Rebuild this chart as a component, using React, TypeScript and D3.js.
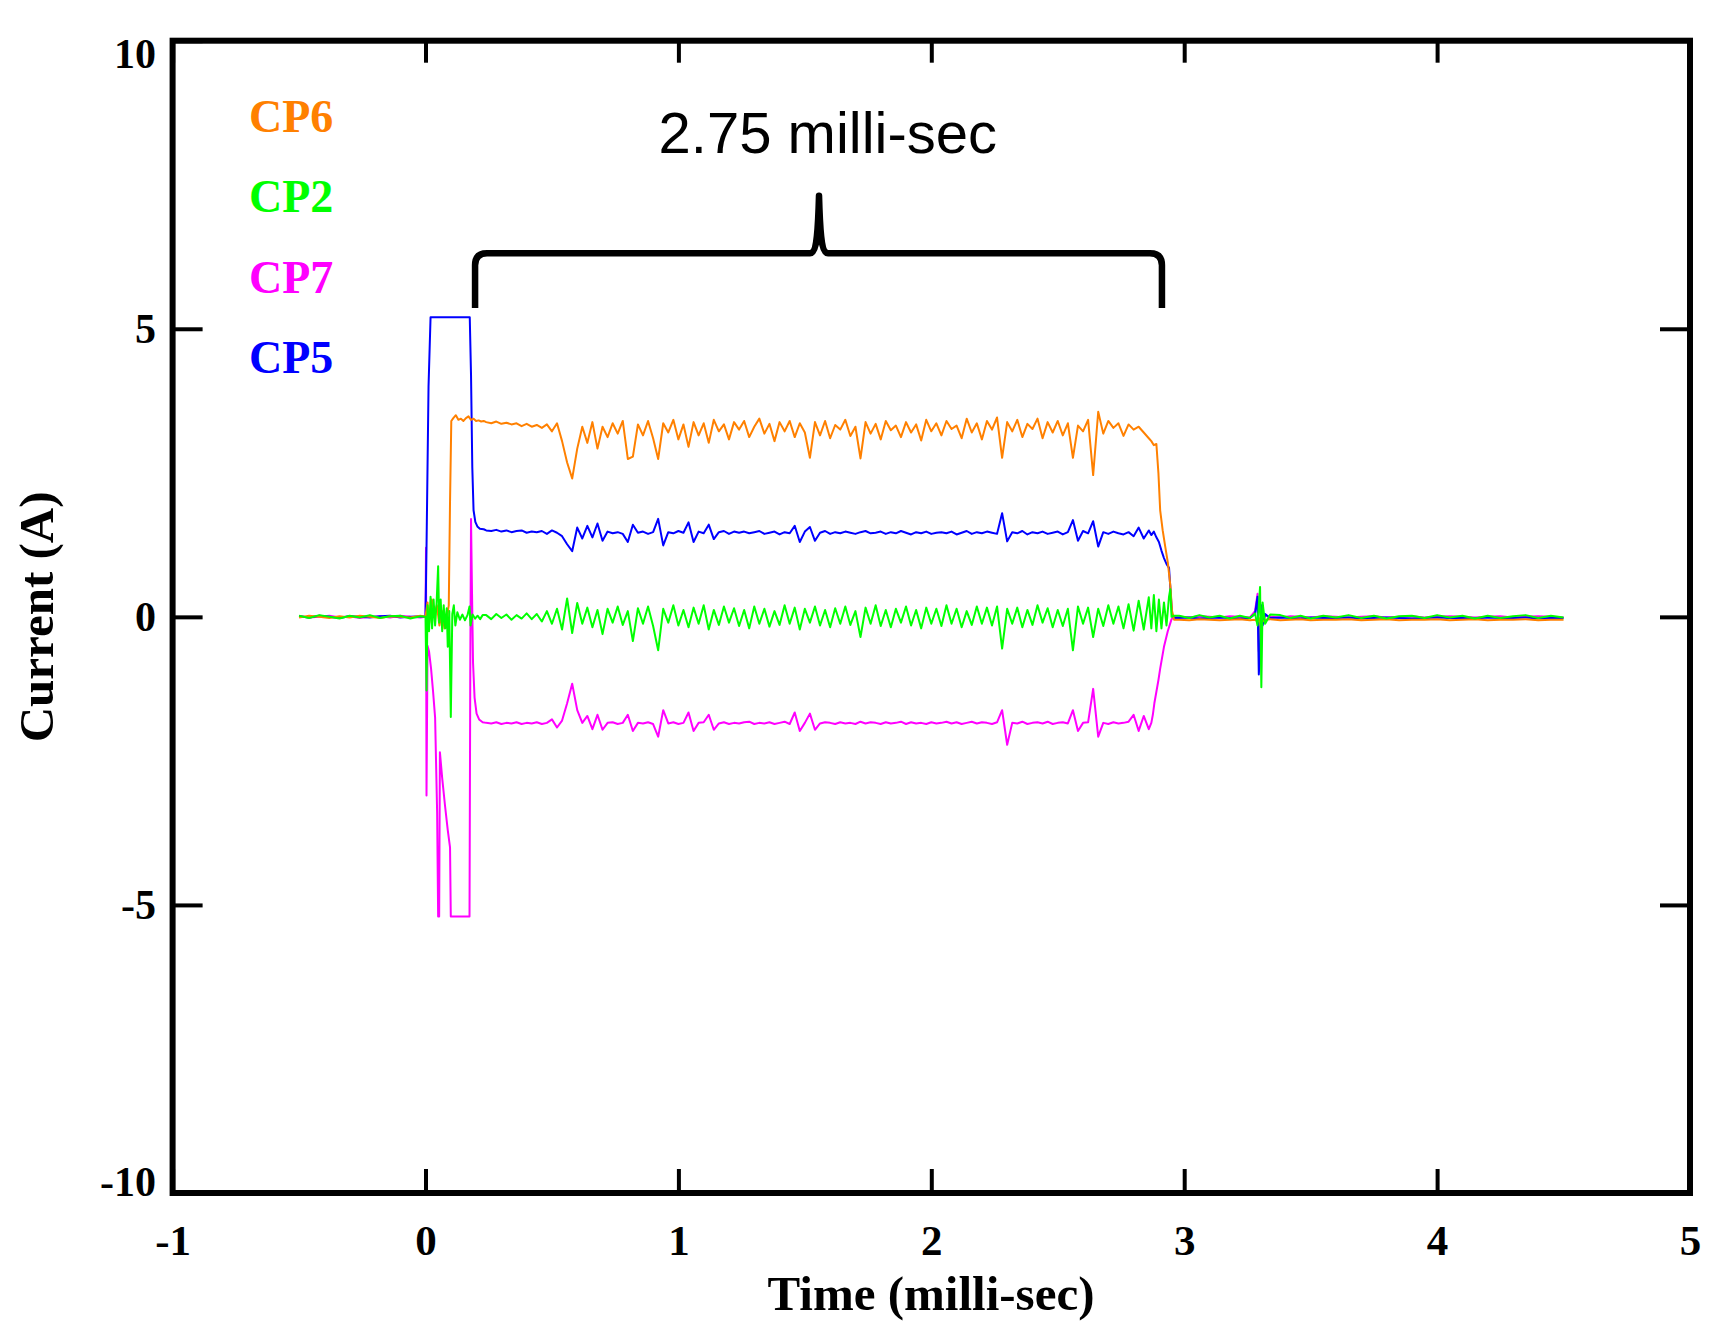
import React, { useRef, useEffect } from 'react';
import * as d3 from 'd3';

// ---- data (time in milli-sec, current in A) ----
const xTickValues = [-1, 0, 1, 2, 3, 4, 5];
const yTickValues = [-10, -5, 0, 5, 10];
const legendNames = ['CP6', 'CP2', 'CP7', 'CP5'];
const legendColors = ['#FF8000', '#00FF00', '#FF00FF', '#0000FF'];

const preTimes = [-0.5, -0.46, -0.42, -0.38, -0.34, -0.3, -0.26, -0.22, -0.18, -0.14, -0.1, -0.06, -0.02];

const plateauTimes = [
  0.24, 0.26, 0.28, 0.30, 0.32, 0.34, 0.36, 0.38, 0.40, 0.42,
  0.44, 0.46, 0.48, 0.50, 0.52, 0.54, 0.56, 0.58, 0.60, 0.62,
  0.64, 0.66, 0.68, 0.70, 0.72, 0.74, 0.76, 0.78, 0.80, 0.82,
  0.84, 0.86, 0.88, 0.90, 0.92, 0.94, 0.96, 0.98, 1.00, 1.02,
  1.04, 1.06, 1.08, 1.10, 1.12, 1.14, 1.16, 1.18, 1.20, 1.22,
  1.24, 1.26, 1.28, 1.30, 1.32, 1.34, 1.36, 1.38, 1.40, 1.42,
  1.44, 1.46, 1.48, 1.50, 1.52, 1.54, 1.56, 1.58, 1.60, 1.62,
  1.64, 1.66, 1.68, 1.70, 1.72, 1.74, 1.76, 1.78, 1.80, 1.82,
  1.84, 1.86, 1.88, 1.90, 1.92, 1.94, 1.96, 1.98, 2.00, 2.02,
  2.04, 2.06, 2.08, 2.10, 2.12, 2.14, 2.16, 2.18, 2.20, 2.22,
  2.24, 2.26, 2.28, 2.30, 2.32, 2.34, 2.36, 2.38, 2.40, 2.42,
  2.44, 2.46, 2.48, 2.50, 2.52, 2.54, 2.56, 2.58, 2.60, 2.62,
  2.64, 2.66, 2.68, 2.70, 2.72, 2.74, 2.76, 2.78, 2.80, 2.82,
  2.84, 2.86,
];

const postTimes = [
  2.98, 3.02, 3.06, 3.10, 3.14, 3.18, 3.22, 3.26,
  3.28, 3.29, 3.295, 3.30, 3.305, 3.31, 3.32, 3.34,
  3.38, 3.42, 3.46, 3.50,
  3.55, 3.60, 3.65, 3.70, 3.75, 3.80, 3.85, 3.90, 3.95, 4.00,
  4.05, 4.10, 4.15, 4.20, 4.25, 4.30, 4.35, 4.40, 4.45, 4.50,
];

// CP5 (blue)
const cp5Pre = [0.01, -0.01, 0.02, 0.0, -0.02, 0.01, 0.0, -0.01, 0.01, 0.02, -0.01, 0.0, 0.01];
const cp5Rise: [number, number][] = [
  [0.0, 0.0], [0.004, 1.2], [0.012, 4.0], [0.02, 5.2], [0.175, 5.2], [0.18, 4.2], [0.185, 2.6],
  [0.19, 1.85], [0.197, 1.65], [0.205, 1.57], [0.215, 1.53], [0.23, 1.52],
];
const cp5Plateau = [
  1.50, 1.49, 1.51, 1.48, 1.50, 1.47, 1.49, 1.50, 1.46, 1.48,
  1.47, 1.49, 1.44, 1.50, 1.46, 1.40, 1.26, 1.14, 1.55, 1.36,
  1.58, 1.38, 1.62, 1.32, 1.48, 1.45, 1.47, 1.44, 1.30, 1.60,
  1.46, 1.48, 1.44, 1.47, 1.70, 1.24, 1.47, 1.45, 1.49, 1.46,
  1.64, 1.30, 1.48, 1.45, 1.60, 1.35, 1.47, 1.49, 1.44, 1.48,
  1.46, 1.48, 1.45, 1.47, 1.49, 1.44, 1.46, 1.48, 1.43, 1.47,
  1.45, 1.58, 1.30, 1.48, 1.56, 1.32, 1.46, 1.49, 1.44, 1.47,
  1.45, 1.48, 1.46, 1.44, 1.47, 1.49, 1.45, 1.46, 1.48, 1.44,
  1.47, 1.45, 1.49, 1.46, 1.43, 1.47, 1.45, 1.48, 1.44, 1.46,
  1.47, 1.45, 1.48, 1.43, 1.46, 1.49, 1.44, 1.47, 1.45, 1.48,
  1.46, 1.44, 1.80, 1.31, 1.47, 1.45, 1.49, 1.43, 1.47, 1.45,
  1.48, 1.44, 1.46, 1.48, 1.43, 1.47, 1.68, 1.32, 1.49, 1.45,
  1.66, 1.22, 1.47, 1.44, 1.48, 1.45, 1.43, 1.47, 1.40, 1.55,
  1.36, 1.50,
];
const cp5Fall: [number, number][] = [
  [2.87, 1.42], [2.88, 1.48], [2.89, 1.38], [2.90, 1.30], [2.91, 1.15], [2.92, 1.02],
  [2.93, 0.92], [2.94, 0.85], [2.946, 0.45], [2.952, 0.05], [2.96, -0.02],
];
const cp5Post = [
  -0.02, -0.01, -0.03, -0.02, -0.01, -0.02, -0.03, -0.02,
  0.05, 0.35, -1.0, -0.6, 0.2, -0.15, 0.05, -0.02,
  -0.01, -0.02, -0.03, -0.01,
  -0.02, -0.02, -0.01, -0.03, -0.02, -0.01, -0.02, -0.03, -0.02, -0.01,
  -0.02, -0.02, -0.03, -0.01, -0.02, -0.02, -0.01, -0.03, -0.02, -0.02,
];

// CP6 (orange)
const cp6Pre = [-0.01, 0.02, 0.0, -0.02, 0.01, -0.01, 0.02, 0.0, -0.02, 0.01, 0.0, -0.01, 0.02];
const cp6Rise: [number, number][] = [
  [0.0, 0.0], [0.008, 0.25], [0.015, -0.1], [0.025, 0.3], [0.035, 0.05], [0.045, 0.2], [0.055, -0.15],
  [0.065, 0.1], [0.075, -0.2], [0.085, 0.0], [0.092, 0.2], [0.097, 2.0], [0.102, 3.4], [0.11, 3.45],
  [0.12, 3.5], [0.13, 3.42], [0.14, 3.44], [0.15, 3.40], [0.16, 3.45], [0.17, 3.48], [0.18, 3.42],
  [0.19, 3.44], [0.20, 3.40], [0.21, 3.41], [0.22, 3.39], [0.23, 3.40],
];
const cp6Plateau = [
  3.38, 3.36, 3.39, 3.35, 3.37, 3.34, 3.36, 3.31, 3.35, 3.30,
  3.33, 3.28, 3.34, 3.22, 3.36, 3.05, 2.68, 2.40, 2.92, 3.30,
  3.02, 3.38, 2.92, 3.30, 3.12, 3.36, 3.18, 3.40, 2.74, 2.78,
  3.34, 3.15, 3.40, 3.10, 2.74, 3.36, 3.20, 3.42, 3.08, 3.34,
  2.95, 3.38, 3.15, 3.36, 3.02, 3.42, 3.22, 3.34, 3.08, 3.38,
  3.25, 3.40, 3.12, 3.30, 3.44, 3.18, 3.35, 3.05, 3.38, 3.22,
  3.40, 3.12, 3.36, 3.20, 2.76, 3.38, 3.15, 3.40, 3.10, 3.33,
  3.25, 3.42, 3.14, 3.30, 2.75, 3.38, 3.18, 3.35, 3.08, 3.40,
  3.24, 3.32, 3.12, 3.38, 3.20, 3.34, 3.06, 3.42, 3.22, 3.36,
  3.15, 3.40, 3.26, 3.32, 3.10, 3.44, 3.20, 3.36, 3.08, 3.40,
  3.25, 3.46, 2.76, 3.38, 3.22, 3.42, 3.12, 3.35, 3.26, 3.44,
  3.10, 3.38, 3.20, 3.40, 3.15, 3.36, 2.76, 3.32, 3.22, 3.42,
  2.46, 3.56, 3.18, 3.40, 3.28, 3.36, 3.14, 3.34, 3.25, 3.30,
  3.20, 3.10,
];
const cp6Fall: [number, number][] = [
  [2.87, 3.05], [2.88, 2.98], [2.89, 3.0], [2.898, 2.5], [2.905, 1.85], [2.915, 1.5],
  [2.925, 1.22], [2.935, 0.95], [2.945, 0.55], [2.952, 0.1], [2.96, -0.05],
];
const cp6Post = [
  -0.05, -0.06, -0.04, -0.05, -0.06, -0.05, -0.04, -0.06,
  -0.05, -0.08, -0.02, -0.12, 0.0, -0.08, -0.05, -0.04,
  -0.06, -0.05, -0.04, -0.06,
  -0.05, -0.05, -0.04, -0.06, -0.05, -0.04, -0.06, -0.05, -0.05, -0.04,
  -0.06, -0.05, -0.04, -0.06, -0.05, -0.05, -0.04, -0.06, -0.05, -0.05,
];

// CP2 (green)
const cp2Pre = [0.02, -0.02, 0.03, 0.0, -0.03, 0.02, -0.01, 0.03, -0.02, 0.01, 0.02, -0.03, 0.01];
const cp2Rise: [number, number][] = [
  [0.0, 0.0], [0.004, -1.28], [0.008, 0.2], [0.014, -0.25], [0.02, 0.35], [0.026, -0.2], [0.032, 0.3],
  [0.038, -0.15], [0.044, 0.25], [0.05, 0.88], [0.054, -0.1], [0.06, 0.3], [0.066, -0.25], [0.072, 0.2],
  [0.078, -0.2], [0.084, 0.15], [0.088, -0.52], [0.094, 0.1], [0.1, -1.74], [0.106, 0.05], [0.112, 0.2],
  [0.118, -0.15], [0.126, 0.08], [0.136, -0.05], [0.146, 0.04], [0.156, -0.06], [0.166, 0.03],
  [0.174, 0.18], [0.178, -0.15], [0.186, 0.04], [0.196, -0.03], [0.206, 0.02], [0.216, -0.04], [0.226, 0.03],
];
const cp2Plateau = [
  0.03, -0.04, 0.05, -0.02, 0.04, -0.05, 0.03, -0.03, 0.06, -0.04,
  0.05, -0.08, 0.10, -0.12, 0.14, -0.22, 0.32, -0.28, 0.24, -0.12,
  0.16, -0.18, 0.12, -0.30, 0.14, -0.10, 0.18, -0.14, 0.10, -0.42,
  0.15, -0.12, 0.18, -0.16, -0.58, 0.14, -0.10, 0.20, -0.15, 0.12,
  -0.18, 0.16, -0.12, 0.20, -0.22, 0.12, -0.14, 0.18, -0.10, 0.15,
  -0.16, 0.12, -0.20, 0.18, -0.12, 0.14, -0.17, 0.10, -0.14, 0.20,
  -0.12, 0.16, -0.22, 0.14, -0.10, 0.18, -0.15, 0.12, -0.18, 0.15,
  -0.12, 0.18, -0.14, 0.10, -0.35, 0.16, -0.12, 0.20, -0.16, 0.12,
  -0.18, 0.14, -0.10, 0.18, -0.15, 0.12, -0.20, 0.16, -0.12, 0.14,
  -0.16, 0.20, -0.12, 0.14, -0.18, 0.10, -0.14, 0.18, -0.12, 0.16,
  -0.15, 0.18, -0.55, 0.14, -0.12, 0.16, -0.18, 0.12, -0.14, 0.20,
  -0.10, 0.15, -0.18, 0.12, -0.16, 0.14, -0.58, 0.18, -0.12, 0.16,
  -0.35, 0.14, -0.16, 0.20, -0.12, 0.18, -0.20, 0.22, -0.24, 0.28,
  -0.22, 0.34,
];
const cp2Fall: [number, number][] = [
  [2.87, -0.2], [2.88, 0.38], [2.89, -0.25], [2.90, 0.3], [2.91, -0.2], [2.92, 0.25],
  [2.93, -0.15], [2.94, 0.35], [2.945, 0.48], [2.95, 0.0], [2.96, 0.02],
];
const cp2Post = [
  0.02, -0.02, 0.03, -0.01, 0.02, -0.03, 0.02, -0.02,
  0.06, -0.15, 0.2, 0.52, -1.22, 0.25, -0.12, 0.04,
  0.03, -0.02, 0.02, -0.03,
  0.02, -0.01, 0.03, -0.02, 0.02, -0.03, 0.01, 0.02, -0.02, 0.03,
  -0.01, 0.02, -0.03, 0.02, -0.02, 0.01, 0.03, -0.02, 0.02, -0.01,
];

// CP7 (magenta)
const cp7Pre = [0.01, -0.01, 0.0, 0.02, -0.01, 0.01, -0.02, 0.0, 0.01, -0.01, 0.02, 0.0, -0.01];
const cp7Rise: [number, number][] = [
  [0.0, 0.0], [0.002, 1.2], [0.004, -3.1], [0.008, -0.5], [0.014, -0.6], [0.022, -0.9], [0.03, -1.3],
  [0.038, -1.75], [0.046, -3.4], [0.05, -5.2], [0.054, -5.2], [0.057, -2.35], [0.066, -2.8],
  [0.077, -3.27], [0.088, -3.7], [0.097, -4.0], [0.1, -5.2], [0.174, -5.2], [0.177, -1.0], [0.18, 1.7],
  [0.184, 0.4], [0.188, -0.8], [0.194, -1.4], [0.202, -1.68], [0.212, -1.78], [0.226, -1.83],
];
const cp7Plateau = [
  -1.84, -1.85, -1.83, -1.86, -1.84, -1.85, -1.83, -1.86, -1.84, -1.85,
  -1.83, -1.86, -1.84, -1.78, -1.92, -1.80, -1.50, -1.16, -1.62, -1.84,
  -1.72, -1.95, -1.70, -1.96, -1.84, -1.83, -1.86, -1.84, -1.70, -1.98,
  -1.84, -1.85, -1.83, -1.86, -2.08, -1.62, -1.85, -1.83, -1.86, -1.84,
  -1.66, -1.98, -1.84, -1.83, -1.70, -1.96, -1.85, -1.83, -1.86, -1.84,
  -1.85, -1.83, -1.82, -1.86, -1.84, -1.85, -1.83, -1.86, -1.84, -1.82,
  -1.86, -1.66, -1.98, -1.84, -1.68, -1.96, -1.85, -1.83, -1.84, -1.86,
  -1.83, -1.85, -1.84, -1.86, -1.82, -1.85, -1.83, -1.84, -1.86, -1.83,
  -1.85, -1.84, -1.82, -1.86, -1.83, -1.85, -1.84, -1.86, -1.83, -1.85,
  -1.84, -1.82, -1.85, -1.83, -1.86, -1.84, -1.82, -1.85, -1.83, -1.84,
  -1.86, -1.83, -1.62, -2.22, -1.84, -1.85, -1.82, -1.86, -1.84, -1.83,
  -1.85, -1.82, -1.86, -1.84, -1.83, -1.85, -1.62, -1.98, -1.84, -1.83,
  -1.25, -2.08, -1.84, -1.86, -1.83, -1.85, -1.84, -1.82, -1.70, -1.98,
  -1.72, -1.95,
];
const cp7Fall: [number, number][] = [
  [2.87, -1.84], [2.876, -1.7], [2.882, -1.5], [2.89, -1.3], [2.898, -1.1], [2.905, -0.9],
  [2.92, -0.52], [2.935, -0.25], [2.95, -0.04], [2.96, 0.0],
];
const cp7Post = [
  0.0, -0.01, 0.01, 0.0, -0.01, 0.01, 0.0, -0.01,
  0.1, 0.4, -0.6, -0.2, 0.1, -0.05, 0.02, 0.0,
  -0.01, 0.01, 0.0, -0.01,
  0.01, 0.0, -0.01, 0.0, 0.01, -0.01, 0.0, 0.01, -0.01, 0.0,
  0.01, 0.0, -0.01, 0.0, 0.01, -0.01, 0.0, 0.01, 0.0, -0.01,
];

// brace annotation anchors (data units)
const braceStart = 0.196;
const braceEnd = 2.912;
const braceMid = 1.556;
const braceFoot = 5.36;
const braceBar = 6.31;
const bracePeak = 7.31;
const braceLabel = '2.75 milli-sec';

const pair = (times: number[], vals: number[]): [number, number][] =>
  times.map((t, i) => [t, vals[i]] as [number, number]).filter(d => d[1] !== undefined);

const App = () => {
  const svgRef = useRef<SVGSVGElement>(null);

  useEffect(() => {
    const svg = d3.select(svgRef.current);
    svg.selectAll('*').remove();

    const x = d3.scaleLinear().domain([-1, 5]).range([172.6, 1690]);
    const y = d3.scaleLinear().domain([-10, 10]).range([1193, 40.7]);
    const serif = '"Liberation Serif", "Times New Roman", serif';
    // plain hyphen for negatives, like the original
    const fmt = (d: any) => String(d);

    svg.append('rect').attr('width', 1724).attr('height', 1328).attr('fill', '#fff');

    // traces, drawn so the green one ends up on top
    const series = [
      { name: 'CP7', color: '#FF00FF', pre: cp7Pre, rise: cp7Rise, plateau: cp7Plateau, fall: cp7Fall, post: cp7Post },
      { name: 'CP5', color: '#0000FF', pre: cp5Pre, rise: cp5Rise, plateau: cp5Plateau, fall: cp5Fall, post: cp5Post },
      { name: 'CP6', color: '#FF8000', pre: cp6Pre, rise: cp6Rise, plateau: cp6Plateau, fall: cp6Fall, post: cp6Post },
      { name: 'CP2', color: '#00FF00', pre: cp2Pre, rise: cp2Rise, plateau: cp2Plateau, fall: cp2Fall, post: cp2Post },
    ];

    const line = d3.line<[number, number]>()
      .x(d => x(d[0]))
      .y(d => y(d[1]));

    const traces = svg.append('g');
    series.forEach(s => {
      const pts = [
        ...pair(preTimes, s.pre),
        ...s.rise,
        ...pair(plateauTimes, s.plateau),
        ...s.fall,
        ...pair(postTimes, s.post),
      ];
      traces.append('path')
        .datum(pts)
        .attr('d', line)
        .attr('fill', 'none')
        .attr('stroke', s.color)
        .attr('stroke-width', 2)
        .attr('stroke-linejoin', 'round');
    });

    // axes with inward ticks
    const styleTicks = (g: any) => {
      g.select('.domain').remove();
      g.selectAll('.tick line').attr('stroke', '#000').attr('stroke-width', 4);
    };

    svg.append('g')
      .attr('transform', `translate(0,${y(-10)})`)
      .call(d3.axisBottom(x).tickValues(xTickValues).tickSize(-24).tickFormat(fmt))
      .call(styleTicks)
      .call((g: any) => g.selectAll('.tick text')
        .attr('y', 62).attr('dy', 0)
        .attr('fill', '#000')
        .style('font-family', serif).style('font-weight', 'bold').style('font-size', '43px'));

    svg.append('g')
      .attr('transform', `translate(0,${y(10)})`)
      .call(d3.axisTop(x).tickValues(xTickValues).tickSize(-22).tickFormat(() => ''))
      .call(styleTicks);

    svg.append('g')
      .attr('transform', `translate(${x(-1)},0)`)
      .call(d3.axisLeft(y).tickValues(yTickValues).tickSize(-30).tickFormat(fmt))
      .call(styleTicks)
      .call((g: any) => g.selectAll('.tick text')
        .attr('x', -16.6)
        .attr('dy', (d: number) => (d === 10 ? 13 : d === -10 ? -12 : 0) + 14)
        .attr('text-anchor', 'end')
        .attr('fill', '#000')
        .style('font-family', serif).style('font-weight', 'bold').style('font-size', '42px'));

    svg.append('g')
      .attr('transform', `translate(${x(5)},0)`)
      .call(d3.axisRight(y).tickValues(yTickValues).tickSize(-30).tickFormat(() => ''))
      .call(styleTicks);

    // frame
    svg.append('rect')
      .attr('x', x(-1)).attr('y', y(10))
      .attr('width', x(5) - x(-1)).attr('height', y(-10) - y(10))
      .attr('fill', 'none').attr('stroke', '#000').attr('stroke-width', 6);

    // axis titles
    svg.append('text')
      .attr('x', 931).attr('y', 1310)
      .attr('text-anchor', 'middle')
      .style('font-family', serif).style('font-weight', 'bold').style('font-size', '49px')
      .text('Time (milli-sec)');

    svg.append('text')
      .attr('transform', `translate(53,${(y(-10) + y(10)) / 2}) rotate(-90)`)
      .attr('text-anchor', 'middle')
      .style('font-family', serif).style('font-weight', 'bold').style('font-size', '49px')
      .text('Current (A)');

    // legend
    svg.append('g')
      .selectAll('text')
      .data(legendNames)
      .join('text')
      .attr('x', 249)
      .attr('y', (d, i) => 131.7 + i * 80.5)
      .attr('fill', (d, i) => legendColors[i])
      .style('font-family', serif).style('font-weight', 'bold').style('font-size', '46px')
      .text(d => d);

    // brace
    const xl = x(braceStart), xr = x(braceEnd), xc = x(braceMid);
    const yf = y(braceFoot), yb = y(braceBar), yp = y(bracePeak);
    const r = 12;
    const p = d3.path();
    p.moveTo(xl, yf);
    p.lineTo(xl, yb + r);
    p.quadraticCurveTo(xl, yb, xl + r, yb);
    p.lineTo(xc - 9, yb);
    p.bezierCurveTo(xc - 2, yb, xc - 1, yb - 20, xc, yp);
    p.bezierCurveTo(xc + 1, yb - 20, xc + 2, yb, xc + 9, yb);
    p.lineTo(xr - r, yb);
    p.quadraticCurveTo(xr, yb, xr, yb + r);
    p.lineTo(xr, yf);
    svg.append('path')
      .attr('d', p.toString())
      .attr('fill', 'none')
      .attr('stroke', '#000')
      .attr('stroke-width', 6.5)
      .attr('stroke-linejoin', 'round');

    svg.append('text')
      .attr('x', 827.8).attr('y', 152.7)
      .attr('text-anchor', 'middle')
      .style('font-family', '"Liberation Sans", Arial, sans-serif').style('font-size', '58px')
      .text(braceLabel);
  }, []);

  return (
    <svg
      ref={svgRef}
      width={1724}
      height={1328}
      style={{ position: 'absolute', left: 0, top: 0, display: 'block' }}
    />
  );
};

export default App;
